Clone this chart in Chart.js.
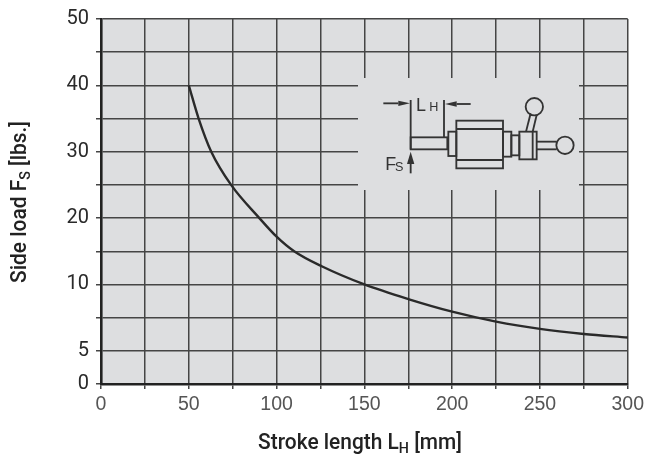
<!DOCTYPE html>
<html>
<head>
<meta charset="utf-8">
<title>Side load vs stroke length</title>
<style>
html, body { margin: 0; padding: 0; background: #fff; }
canvas { display: block; }
</style>
<script src="https://cdn.jsdelivr.net/npm/chart.js@4"></script>
</head>
<body>
<canvas id="sideLoad" width="648" height="460"></canvas>
<script>
const strokeLength = [50, 55.6, 62.8, 74.1, 90.2, 100, 110, 126, 150, 175, 200, 225, 250, 275, 300];
const sideLoad = [40, 35, 30, 25, 20, 17.2, 15, 12.7, 10, 8.9, 7.95, 7.2, 6.65, 6.27, 6.0];
const loadTicks = [0, 5, 7.5, 10, 15, 20, 25, 30, 35, 40, 45, 50];
const loadLabels = [0, 5, 10, 20, 30, 40, 50];
const strokeLabels = [0, 50, 100, 150, 200, 250, 300];

const INK = "#2a2a2a";
const GRID = "#454545";

// the printed y axis is uneven: every listed tick sits the same distance apart
class StepScale extends Chart.LinearScale {
    buildTicks() {
        return loadTicks.map((value) => ({ value }));
    }
    configure() {
        super.configure();
        this._startValue = 0;
        this._valueRange = 50;
    }
    getPixelForValue(value) {
        let i = 0;
        while (i < loadTicks.length - 2 && value > loadTicks[i + 1]) i++;
        const part = (value - loadTicks[i]) / (loadTicks[i + 1] - loadTicks[i]);
        return this.getPixelForDecimal((i + part) / (loadTicks.length - 1));
    }
}
StepScale.id = "step";
StepScale.defaults = Chart.LinearScale.defaults;
Chart.register(StepScale);

function textRun(ctx, parts) {
    // main text plus a lowered small letter, centred on the current origin
    let total = 0;
    parts.forEach((p) => {
        ctx.font = p.font;
        total += ctx.measureText(p.text).width;
    });
    let x = -total / 2;
    ctx.textAlign = "left";
    ctx.textBaseline = "alphabetic";
    parts.forEach((p) => {
        ctx.font = p.font;
        ctx.fillText(p.text, x, p.drop || 0);
        x += ctx.measureText(p.text).width;
    });
}

const axisTitles = {
    id: "axisTitles",
    afterDraw(chart) {
        const ctx = chart.ctx;
        const big = "500 22px Roboto";
        const small = "500 15px Roboto";
        ctx.save();
        ctx.fillStyle = "#222";
        ctx.translate(360, 449);
        ctx.scale(0.95, 1);
        textRun(ctx, [
            { text: "Stroke length L", font: big },
            { text: "H", font: small, drop: 4 },
            { text: " [mm]", font: big },
        ]);
        ctx.restore();
        ctx.save();
        ctx.fillStyle = "#222";
        ctx.translate(26, 202);
        ctx.rotate(-Math.PI / 2);
        ctx.scale(0.95, 1);
        textRun(ctx, [
            { text: "Side load F", font: big },
            { text: "S", font: small, drop: 4 },
            { text: " [lbs.]", font: big },
        ]);
        ctx.restore();
    },
};

function line(ctx, x1, y1, x2, y2) {
    ctx.beginPath();
    ctx.moveTo(x1, y1);
    ctx.lineTo(x2, y2);
    ctx.stroke();
}

function solid(ctx, pts) {
    ctx.beginPath();
    pts.forEach((p, i) => (i ? ctx.lineTo(p[0], p[1]) : ctx.moveTo(p[0], p[1])));
    ctx.closePath();
    ctx.fill();
}

// cut-out in the grid with the small cylinder sketch
const insetSketch = {
    id: "insetSketch",
    beforeDatasetsDraw(chart) {
        const ctx = chart.ctx;
        ctx.save();
        ctx.fillStyle = "#dddee0";
        ctx.fillRect(358, 78, 221, 112);
        ctx.translate(340, 60);
        ctx.scale(1 / 3, 1 / 3);
        ctx.strokeStyle = "#333";
        ctx.fillStyle = "#333";
        ctx.lineWidth = 5.5;

        // dimension lines
        line(ctx, 130, 130, 175, 130);
        line(ctx, 212, 120, 212, 268);
        line(ctx, 312, 120, 312, 232);
        line(ctx, 392, 132, 350, 132);
        solid(ctx, [[175, 122], [210, 130], [175, 138]]);
        solid(ctx, [[350, 124], [315, 132], [350, 140]]);

        // force arrow
        line(ctx, 212, 340, 212, 300);
        solid(ctx, [[201, 312], [212, 275], [223, 312]]);

        // rod, collars, body
        ctx.strokeRect(212, 232, 110, 36);
        ctx.strokeRect(325, 215, 24, 73);
        ctx.strokeRect(349, 182, 140, 143);
        line(ctx, 349, 207, 489, 207);
        line(ctx, 349, 300, 489, 300);
        ctx.strokeRect(489, 215, 25, 75);
        ctx.strokeRect(514, 226, 24, 60);
        ctx.strokeRect(538, 215, 52, 83);
        line(ctx, 578, 215, 578, 298);

        // lever and knobs
        line(ctx, 558, 215, 572, 160);
        line(ctx, 578, 215, 590, 165);
        line(ctx, 590, 245, 650, 245);
        line(ctx, 590, 268, 650, 268);
        ctx.beginPath();
        ctx.arc(583, 140, 26, 0, Math.PI * 2);
        ctx.stroke();
        ctx.beginPath();
        ctx.arc(675, 256, 26, 0, Math.PI * 2);
        ctx.stroke();

        // letters
        ctx.textAlign = "left";
        ctx.textBaseline = "alphabetic";
        ctx.font = "54px 'Liberation Sans'";
        ctx.fillText("L", 228, 154);
        ctx.fillText("F", 136, 330);
        ctx.font = "38px 'Liberation Sans'";
        ctx.fillText("H", 268, 154);
        ctx.fillText("S", 165, 333);
        ctx.restore();
    },
};

const plotPaint = {
    id: "plotPaint",
    beforeDraw(chart) {
        const a = chart.chartArea;
        chart.ctx.save();
        chart.ctx.fillStyle = "#dddee0";
        chart.ctx.fillRect(a.left, a.top, a.right - a.left, a.bottom - a.top);
        chart.ctx.restore();
    },
};

new Chart(document.getElementById("sideLoad"), {
    type: "line",
    data: {
        labels: strokeLength,
        datasets: [
            {
                label: "Side load",
                data: strokeLength.map((x, i) => ({ x, y: sideLoad[i] })),
                borderColor: INK,
                borderWidth: 2.4,
                pointRadius: 0,
                cubicInterpolationMode: "monotone",
                clip: false,
            },
        ],
    },
    options: {
        responsive: false,
        animation: false,
        layout: { padding: { top: 18, right: 18 } },
        plugins: { legend: { display: false }, tooltip: { enabled: false } },
        scales: {
            x: {
                type: "linear",
                min: 0,
                max: 300,
                afterFit: (s) => { s.height = 76; },
                grid: { color: GRID, lineWidth: 1.5, tickLength: 5, tickColor: GRID },
                border: { color: "#222", width: 2.4 },
                ticks: {
                    stepSize: 25,
                    autoSkip: false,
                    maxRotation: 0,
                    padding: 4,
                    color: "#555",
                    font: { family: "Liberation Sans", size: 19.5 },
                    callback: (v) => (strokeLabels.includes(v) ? String(v) : ""),
                },
            },
            y: {
                type: "step",
                min: 0,
                max: 50,
                afterFit: (s) => { s.width = 101; },
                grid: { color: GRID, lineWidth: 1.5, tickLength: 5, tickColor: GRID },
                border: { color: "#222", width: 2.6 },
                ticks: {
                    autoSkip: false,
                    padding: 7,
                    color: "#2a2a2a",
                    font: { family: "Roboto", size: 20 },
                    callback: (v) => (loadLabels.includes(v) ? String(v) : ""),
                },
            },
        },
    },
    plugins: [plotPaint, insetSketch, axisTitles],
});
</script>
</body>
</html>
